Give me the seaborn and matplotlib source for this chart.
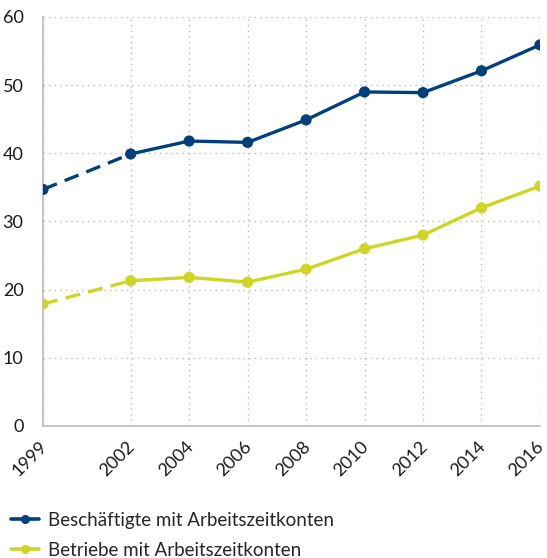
import pandas as pd
import seaborn as sns
import matplotlib.pyplot as plt
import matplotlib.transforms as mtransforms
from matplotlib.lines import Line2D

sns.set_theme(style="white")
plt.rcParams['font.family'] = ['Lato', 'DejaVu Sans']

years = [1999, 2002, 2004, 2006, 2008, 2010, 2012, 2014, 2016]
beschaeftigte = [34.7, 39.9, 41.8, 41.6, 44.9, 49.0, 48.9, 52.1, 55.9]
betriebe = [17.9, 21.3, 21.8, 21.1, 23.0, 26.0, 28.0, 32.0, 35.2]
labels = ["Beschäftigte mit Arbeitszeitkonten", "Betriebe mit Arbeitszeitkonten"]

BLUE = "#023f7d"
YELLOW = "#cdd623"

df = pd.DataFrame({"Jahr": years, "B": beschaeftigte, "T": betriebe})

fig = plt.figure(figsize=(5.47, 5.58), dpi=100)
ax = fig.add_axes([0.0786, 0.2366, 0.9085, 0.733])

for col, color in [("B", BLUE), ("T", YELLOW)]:
    # 1999-2002 gestrichelt, danach durchgezogen
    sns.lineplot(data=df.iloc[:2], x="Jahr", y=col, color=color, lw=2.4,
                 linestyle=(0, (4.5, 2.5)), ax=ax)
    sns.lineplot(data=df.iloc[1:], x="Jahr", y=col, color=color, lw=2.4, ax=ax)
    ax.scatter(df["Jahr"], df[col], s=65, color=color, zorder=5, edgecolors="none")

ax.set_xlim(1999, 2016)
ax.set_ylim(0, 60)
ax.set_xticks(years)
ax.set_xticklabels([str(y) for y in years], rotation=45, ha="right",
                   rotation_mode="anchor", fontsize=13, color="#1a1a1a")
ax.set_yticks(range(0, 61, 10))
ax.set_yticklabels([str(v) for v in range(0, 61, 10)], fontsize=13, color="#1a1a1a")
ax.tick_params(axis="x", pad=9, length=0)
ax.tick_params(axis="y", pad=14, length=0)
shift = mtransforms.ScaledTranslation(-4 / 100, 0, fig.dpi_scale_trans)
for lbl in ax.get_xticklabels():
    lbl.set_transform(lbl.get_transform() + shift)
ax.set_xlabel("")
ax.set_ylabel("")

ax.grid(True, color="#bbbbbb", linestyle=(0, (1, 3)), linewidth=1)
sns.despine(ax=ax, top=True, right=True)
ax.spines["left"].set_color("#bbbbbb")
ax.spines["bottom"].set_color("#bbbbbb")
ax.spines["left"].set_linewidth(1.2)
ax.spines["bottom"].set_linewidth(1.2)
ax.set_axisbelow(True)

handles = [Line2D([0], [0], color=BLUE, lw=2.6, marker="o", markersize=5.5),
           Line2D([0], [0], color=YELLOW, lw=2.6, marker="o", markersize=5.5)]
fig.legend(handles, labels, loc="lower left", bbox_to_anchor=(0.0, -0.022),
           frameon=False, fontsize=13.5, handlelength=1.5, handletextpad=0.45,
           labelspacing=0.7, borderaxespad=0.2)

fig.savefig("out.png", dpi=100)
